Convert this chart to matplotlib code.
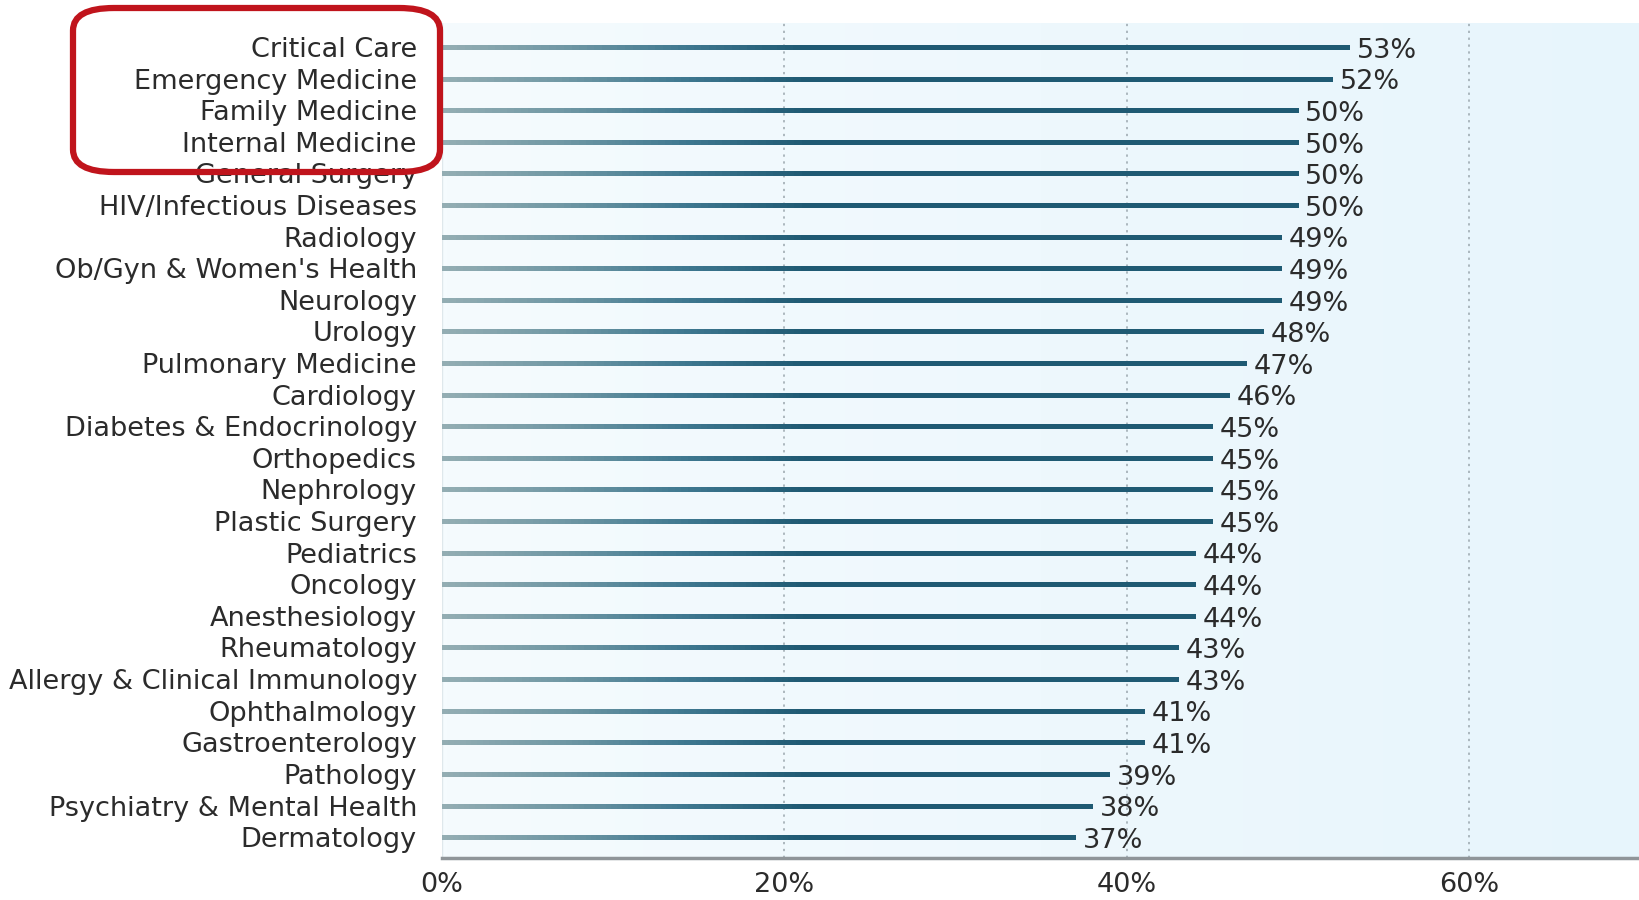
import numpy as np
import matplotlib.pyplot as plt
from matplotlib.collections import LineCollection
from matplotlib.colors import LinearSegmentedColormap
from matplotlib.patches import FancyBboxPatch

# Especialidades y porcentajes
especialidades = [
    'Critical Care', 'Emergency Medicine', 'Family Medicine', 'Internal Medicine',
    'General Surgery', 'HIV/Infectious Diseases', 'Radiology', "Ob/Gyn & Women's Health",
    'Neurology', 'Urology', 'Pulmonary Medicine', 'Cardiology',
    'Diabetes & Endocrinology', 'Orthopedics', 'Nephrology', 'Plastic Surgery',
    'Pediatrics', 'Oncology', 'Anesthesiology', 'Rheumatology',
    'Allergy & Clinical Immunology', 'Ophthalmology', 'Gastroenterology', 'Pathology',
    'Psychiatry & Mental Health', 'Dermatology',
]
valores = [53, 52, 50, 50, 50, 50, 49, 49, 49, 48, 47, 46, 45, 45, 45, 45,
           44, 44, 44, 43, 43, 41, 41, 39, 38, 37]
ticks_x = [0, 20, 40, 60]

color_texto = '#2b2b2b'
color_barra = LinearSegmentedColormap.from_list(
    'barra', ['#93adb3', '#6f97a4', '#3f7890', '#1f5a73'])

fig = plt.figure(figsize=(16.4, 9), dpi=100, facecolor='white')
ax = fig.add_axes([0.2695, 0.0467, 0.7305, 0.9277])

n = len(especialidades)
ax.set_xlim(0, 70)
ax.set_ylim(n - 1 + 0.66, -0.76)

# Fondo celeste con degradado suave
fondo = np.linspace(0, 1, 256).reshape(1, -1)
fondo_cmap = LinearSegmentedColormap.from_list('fondo', ['#f5fbfe', '#e7f5fc'])
ax.imshow(fondo, cmap=fondo_cmap, aspect='auto', extent=(0, 70, n - 1 + 0.66, -0.76),
          zorder=0)

# Líneas de guía punteadas
for t in ticks_x[1:]:
    ax.axvline(t, color='#9aa6ad', linestyle=(0, (1.5, 3)), linewidth=1.1, zorder=1)
ax.axvline(0, color='#dfe8ec', linewidth=1.0, zorder=1)

# Barras finas con degradado de gris a azul petróleo
for i, v in enumerate(valores):
    xs = np.linspace(0, v, 120)
    segs = np.stack([np.column_stack([xs[:-1], np.full(119, i)]),
                     np.column_stack([xs[1:], np.full(119, i)])], axis=1)
    t = np.clip(xs[:-1] / 21.0, 0, 1)
    lc = LineCollection(segs, colors=color_barra(t), linewidths=3.6,
                        capstyle='butt', antialiaseds=False, zorder=3)
    ax.add_collection(lc)
    ax.text(v + 0.45, i + 0.12, f'{v}%', ha='left', va='center',
            fontsize=19.5, color=color_texto, zorder=4)

ax.set_yticks(range(n))
ax.set_yticklabels(especialidades, fontsize=19.5, color=color_texto)
ax.set_xticks(ticks_x)
ax.set_xticklabels([f'{t}%' for t in ticks_x], fontsize=19.5, color=color_texto)
ax.tick_params(axis='y', length=0, pad=18)
ax.tick_params(axis='x', length=0, pad=10)

for lado in ['top', 'right', 'left']:
    ax.spines[lado].set_visible(False)
ax.spines['bottom'].set_color('#8f9599')
ax.spines['bottom'].set_linewidth(2.5)

# Recuadro rojo resaltando las primeras especialidades
recuadro = FancyBboxPatch((73 / 1640, 1 - 172 / 900), (440 - 73) / 1640, (172 - 8) / 900,
                          boxstyle='round,pad=0,rounding_size=0.025',
                          transform=fig.transFigure, fill=False,
                          edgecolor='#c0141c', linewidth=4.5, zorder=10)
fig.patches.append(recuadro)

fig.savefig('out.png', dpi=100, facecolor='white')
